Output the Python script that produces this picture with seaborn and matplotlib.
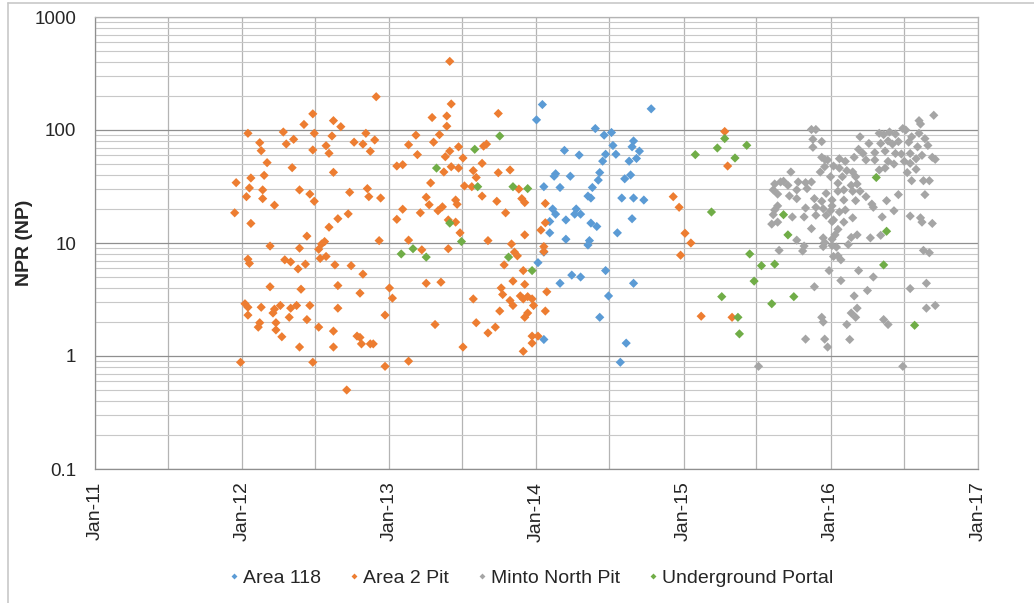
import numpy as np
import pandas as pd
import matplotlib
matplotlib.use("Agg")
import matplotlib.pyplot as plt
import matplotlib.dates as mdates
from matplotlib.ticker import LogLocator, NullFormatter, FixedLocator, FixedFormatter
from matplotlib.lines import Line2D
import seaborn as sns

# Sampling dates are stored as decimal years, NPR values in NP units.
area118_year = [
    2014.04, 2014.00, 2014.78, 2014.40, 2014.46, 2014.51, 2014.66, 2014.65, 2014.70, 2014.52,
    2014.19, 2014.29, 2014.47, 2014.54, 2014.45, 2014.63, 2014.68, 2014.43, 2014.13, 2014.12,
    2014.23, 2014.64, 2014.60, 2014.42, 2014.05, 2014.16, 2014.38, 2014.35, 2014.37, 2014.58,
    2014.66, 2014.73, 2014.11, 2014.27, 2014.13, 2014.26, 2014.30, 2014.09, 2014.20, 2014.37,
    2014.41, 2014.65, 2014.09, 2014.55, 2014.20, 2014.36, 2014.35, 2014.05, 2014.01, 2014.47,
    2014.24, 2014.30, 2014.16, 2014.66, 2014.49, 2014.43, 2014.05, 2014.61, 2014.57,
]
area118_npr = [
    168, 123, 154, 103, 90, 95, 80, 71, 65, 73,
    66, 60, 61, 61, 53, 53, 56, 42, 41, 39,
    39, 40, 37, 36, 31.5, 31, 31, 26, 25, 25,
    25, 24, 20, 20, 18, 18, 18, 15.5, 16, 15,
    14, 16.4, 12.3, 12.3, 10.8, 10.5, 9.6, 8.3, 6.7, 5.7,
    5.2, 5.0, 4.4, 4.4, 3.4, 2.2, 1.4, 1.3, 0.88,
]

area2_year = [
    2012.91, 2012.48, 2012.42, 2012.62, 2012.67, 2012.04, 2012.28, 2012.49, 2012.61, 2012.84,
    2012.35, 2012.30, 2012.12, 2012.76, 2012.82, 2012.90, 2012.57, 2012.13, 2012.48, 2012.59,
    2012.87, 2012.17, 2012.34, 2013.05, 2012.62, 2012.15, 2012.06, 2011.96, 2012.05, 2012.14,
    2012.39, 2012.85, 2012.03, 2012.14, 2012.46, 2012.73, 2012.86, 2012.94, 2012.49, 2012.22,
    2011.95, 2012.06, 2012.72, 2012.65, 2013.05, 2012.59, 2012.44, 2012.93, 2012.56, 2012.54,
    2012.19, 2012.39, 2012.52, 2012.04, 2012.05, 2012.29, 2012.33, 2012.53, 2012.57, 2012.43,
    2012.63, 2012.74, 2012.38, 2012.82, 2012.19, 2012.40, 2012.65, 2012.80, 2013.00, 2013.02,
    2012.02, 2012.04, 2012.13, 2012.22, 2012.21, 2012.26, 2012.33, 2012.37, 2012.46, 2012.65,
    2012.04, 2012.32, 2012.97, 2012.12, 2012.11, 2012.23, 2012.44, 2012.23, 2012.52, 2012.62,
    2012.27, 2012.78, 2012.80, 2012.81, 2012.87, 2012.89, 2012.39, 2012.62, 2011.99, 2012.48,
    2012.97, 2012.71,
    2013.41, 2013.42, 2013.74, 2013.29, 2013.39, 2013.39, 2013.18, 2013.34, 2013.13, 2013.30,
    2013.47, 2013.64, 2013.66, 2013.19, 2013.38, 2013.41, 2013.50, 2013.63, 2013.09, 2013.42,
    2013.47, 2013.37, 2013.57, 2013.74, 2013.82, 2013.59, 2013.28, 2013.51, 2013.56, 2013.88,
    2013.63, 2013.25, 2013.90, 2013.92, 2013.27, 2013.45, 2013.46, 2013.36, 2013.33, 2013.73,
    2013.09, 2013.21, 2013.79, 2013.40, 2013.45, 2013.48, 2013.92, 2013.13, 2013.67, 2013.83,
    2013.85, 2013.87, 2013.22, 2013.40, 2013.78, 2013.91, 2013.25, 2013.35, 2013.84, 2013.92,
    2013.76, 2013.77, 2013.89, 2013.91, 2013.94, 2013.97, 2013.82, 2013.84, 2013.98, 2013.57,
    2013.75, 2013.94, 2013.92, 2013.31, 2013.59, 2013.72, 2013.67, 2013.97, 2014.01, 2013.97,
    2013.50, 2013.91, 2013.13,
    2014.06, 2014.06, 2014.03, 2014.05, 2014.05, 2014.07, 2014.06,
    2014.93, 2014.97, 2015.01, 2015.05, 2014.98, 2015.28, 2015.30, 2015.12, 2015.33,
]
area2_npr = [
    197, 139, 112, 121, 107, 93.5, 96, 93.5, 88.5, 93.5,
    82.7, 75.2, 77.2, 78, 75, 81.6, 72.6, 65.6, 66.6, 62.2,
    64.8, 51.4, 46.4, 48.0, 42.2, 39.7, 37.6, 34.2, 30.7, 29.5,
    29.5, 30.3, 25.7, 24.7, 27.1, 28.1, 25.7, 25.0, 23.4, 21.6,
    18.5, 14.9, 18.1, 16.4, 16.2, 13.8, 11.5, 10.5, 10.3, 9.8,
    9.4, 9.0, 8.8, 7.2, 6.6, 7.1, 6.8, 7.3, 7.6, 6.5,
    6.4, 6.3, 5.9, 5.3, 4.1, 3.9, 4.2, 3.6, 4.0, 3.25,
    2.9, 2.7, 2.7, 2.6, 2.4, 2.8, 2.65, 2.8, 2.8, 2.65,
    2.3, 2.2, 2.3, 1.97, 1.8, 1.97, 2.1, 1.7, 1.8, 1.66,
    1.48, 1.5, 1.46, 1.28, 1.28, 1.28, 1.2, 1.2, 0.88, 0.88,
    0.81, 0.50,
    405, 170, 140, 129, 133, 108, 90, 91, 74, 78,
    71, 72, 75, 60.5, 58, 65, 56.5, 50.7, 49.3, 47.3,
    46, 42.5, 43.7, 41.9, 44.3, 38, 34, 32, 31.5, 30,
    26, 25.4, 24.7, 22.8, 21.8, 24, 22, 20.9, 19.3, 23.4,
    19.9, 18.5, 18.5, 16, 15.3, 12.3, 11.8, 10.6, 10.5, 9.8,
    8.3, 7.7, 8.7, 8.9, 6.4, 5.7, 4.4, 4.5, 4.6, 4.3,
    4.0, 3.5, 3.4, 3.2, 3.35, 3.2, 3.1, 2.8, 2.8, 3.2,
    2.5, 2.4, 2.2, 1.9, 1.97, 1.8, 1.6, 1.5, 1.5, 1.3,
    1.2, 1.1, 0.9,
    22.4, 15.1, 13, 9.3, 8.4, 3.7, 2.5,
    25.7, 20.7, 12.2, 10, 7.8, 97, 48, 2.25, 2.2,
]

minto_year = [
    2015.87, 2015.90, 2015.88, 2015.94, 2015.88, 2015.96, 2015.73, 2015.62, 2015.66, 2015.68,
    2015.71, 2015.78, 2015.83, 2015.87, 2015.84, 2015.77, 2015.61, 2015.64, 2015.72, 2015.77,
    2015.89, 2015.64, 2015.62, 2015.61, 2015.60, 2015.64, 2015.83, 2015.90, 2016.01, 2015.74,
    2015.82, 2015.90, 2015.97, 2016.02, 2015.87, 2015.77, 2015.82, 2015.81, 2016.01, 2015.65,
    2016.02, 2015.89, 2015.94, 2015.95, 2015.83, 2015.96, 2015.98, 2015.51,
    2016.70, 2016.60, 2016.61, 2016.49, 2016.20, 2016.33, 2016.36, 2016.40, 2016.44, 2016.51,
    2016.55, 2016.60, 2016.64, 2016.26, 2016.34, 2016.39, 2016.42, 2016.46, 2016.53, 2016.66,
    2016.59, 2016.19, 2016.22, 2016.30, 2016.37, 2016.44, 2016.48, 2016.54, 2016.58, 2016.62,
    2016.69, 2016.71, 2015.94, 2015.98, 2016.06, 2016.10, 2016.16, 2016.24, 2016.30, 2016.39,
    2016.43, 2016.50, 2016.54, 2015.96, 2016.02, 2016.06, 2016.11, 2016.15, 2016.33, 2016.37,
    2016.58, 2016.52, 2015.93, 2016.00, 2016.08, 2016.17, 2016.55, 2016.63, 2016.67, 2016.05,
    2016.14, 2016.18, 2015.97, 2016.05, 2016.09, 2016.15, 2016.20, 2016.24, 2016.46, 2016.64,
    2016.38, 2015.94, 2016.01, 2016.09, 2016.17, 2016.28, 2016.29, 2016.43, 2015.95, 2016.00,
    2016.06, 2016.10, 2016.35, 2016.54, 2016.61, 2016.62, 2016.69, 2016.01, 2016.09, 2016.15,
    2016.05, 2016.03, 2016.18, 2016.27, 2016.34, 2016.14, 2015.95, 2015.96, 2016.01, 2015.95,
    2016.12, 2016.04, 2016.63, 2016.67, 2016.05, 2016.07, 2015.99, 2016.19, 2016.29, 2016.07,
    2016.65, 2016.25, 2016.54, 2016.16, 2016.18, 2016.14, 2016.17, 2016.65, 2016.71, 2016.11,
    2016.36, 2016.39, 2016.13, 2016.49,
]
minto_npr = [
    101, 101, 82.7, 79, 70.3, 55, 42.5, 33.3, 34.7, 35.2,
    32.4, 34.7, 34.2, 34.7, 30.3, 29.5, 29.5, 27.1, 26.1, 24.7,
    24.7, 21.3, 19.6, 17.8, 14.7, 15.3, 20.4, 20.7, 21.3, 17,
    17, 17.6, 17.6, 16, 13.4, 10.6, 9.4, 8.5, 9.5, 8.6,
    7.6, 4.1, 2.2, 2.0, 1.41, 1.41, 1.2, 0.81,
    135, 121, 113, 103, 87, 93.5, 91, 96, 92, 100,
    87, 93.5, 83.8, 76, 76, 80, 75, 79, 78, 73,
    71, 67.5, 62, 63, 65, 62, 61.3, 62, 55.7, 59.7,
    57.3, 55, 57.3, 54.3, 55.7, 52.8, 57.3, 54.3, 54.3, 52.8,
    50, 52.8, 50.7, 47.3, 48, 46, 43.7, 42.5, 44.3, 46,
    44.9, 42, 42.5, 38.6, 38.6, 38.6, 35.6, 35.6, 35.6, 33.8,
    32.4, 33.3, 27.5, 28.7, 29.5, 28.7, 28.7, 25.7, 26.8, 26.8,
    23.7, 23.4, 24, 24, 23.7, 22.1, 20.7, 19.3, 20.1, 19.3,
    18.8, 19.6, 17, 17.3, 16.7, 15.3, 14.9, 15.5, 15.3, 16.7,
    13.2, 11.8, 11.8, 11.1, 11.7, 11.2, 11.1, 10.1, 10.8, 9.3,
    9.7, 9.2, 8.6, 8.2, 7.7, 7.1, 5.7, 5.7, 5.0, 4.65,
    4.4, 3.8, 3.95, 3.4, 2.65, 2.4, 2.2, 2.65, 2.8, 1.9,
    2.1, 1.9, 1.4, 0.81,
]

portal_year = [
    2013.58, 2013.75, 2013.32, 2013.60, 2013.84, 2013.94, 2013.41, 2013.49, 2013.08, 2013.16,
    2013.25, 2013.81, 2013.97, 2015.08, 2015.28, 2015.23, 2015.43, 2015.35, 2015.19, 2015.45,
    2015.53, 2015.48, 2015.26, 2015.60, 2015.75, 2015.37, 2015.38, 2015.68, 2015.71, 2015.62,
    2016.31, 2016.38, 2016.36, 2016.57,
]
portal_npr = [
    67.5, 88.5, 46, 31.5, 31.5, 30.3, 15, 10.3, 8.0, 8.9,
    7.5, 7.5, 5.7, 60.5, 84, 69.3, 73.2, 56.5, 18.8, 8.0,
    6.3, 4.6, 3.35, 2.9, 3.35, 2.2, 1.57, 17.8, 11.8, 6.5,
    38, 12.7, 6.4, 1.87,
]

series_names = ["Area 118", "Area 2 Pit", "Minto North Pit", "Underground Portal"]
series_colors = ["#5B9BD5", "#ED7D31", "#A5A5A5", "#70AD47"]
tick_years = [2011, 2012, 2013, 2014, 2015, 2016, 2017]
npr_ticks = [0.1, 1, 10, 100, 1000]
npr_tick_labels = ["0.1", "1", "10", "100", "1000"]


def decimal_year_to_date(values):
    dates = []
    for v in values:
        yr = int(np.floor(v))
        start = pd.Timestamp(year=yr, month=1, day=1)
        end = pd.Timestamp(year=yr + 1, month=1, day=1)
        dates.append(start + (end - start) * (v - yr))
    return dates


frames = []
for name, yrs, vals in zip(series_names,
                           [area118_year, area2_year, minto_year, portal_year],
                           [area118_npr, area2_npr, minto_npr, portal_npr]):
    frames.append(pd.DataFrame({"date": decimal_year_to_date(yrs),
                                "npr": vals, "source": name}))
df = pd.concat(frames, ignore_index=True)

sns.set_style("white")
plt.rcParams["font.family"] = ["Liberation Sans", "DejaVu Sans"]

fig = plt.figure(figsize=(10.34, 6.03), dpi=100)
ax = fig.add_axes([95 / 1034, 1 - 469 / 603, 883 / 1034, 452 / 603])

sns.scatterplot(data=df, x="date", y="npr", hue="source",
                hue_order=series_names, palette=series_colors,
                marker="D", s=22, linewidth=0, ax=ax, legend=False, zorder=3)

ax.set_yscale("log")
ax.set_ylim(0.1, 1000)
ax.set_xlim(pd.Timestamp("2011-01-01"), pd.Timestamp("2017-01-01"))

ax.yaxis.set_major_locator(FixedLocator(npr_ticks))
ax.yaxis.set_major_formatter(FixedFormatter(npr_tick_labels))
ax.yaxis.set_minor_locator(LogLocator(base=10, subs=range(2, 10)))
ax.yaxis.set_minor_formatter(NullFormatter())

ax.xaxis.set_major_locator(FixedLocator(
    [mdates.date2num(pd.Timestamp(year=y, month=1, day=1)) for y in tick_years]))
ax.xaxis.set_major_formatter(mdates.DateFormatter("%b-%y"))
ax.xaxis.set_minor_locator(mdates.MonthLocator(bymonth=7))

ax.grid(which="major", axis="y", color="#8f8f8f", linewidth=0.9, zorder=0)
ax.grid(which="minor", axis="y", color="#c8c8c8", linewidth=0.8, zorder=0)
ax.grid(which="both", axis="x", color="#b4b4b4", linewidth=0.9, zorder=0)
ax.set_axisbelow(True)

for side in ["left", "bottom"]:
    ax.spines[side].set_color("#8f8f8f")
    ax.spines[side].set_linewidth(0.9)
for side in ["top", "right"]:
    ax.spines[side].set_color("#b4b4b4")
    ax.spines[side].set_linewidth(0.9)

ax.tick_params(axis="y", which="major", length=5, width=0.9, color="#8f8f8f",
               labelsize=13.5, pad=8.5, labelcolor="#262626")
ax.tick_params(axis="y", which="minor", length=0)
ax.tick_params(axis="x", which="both", length=0, labelsize=14, pad=9,
               labelcolor="#262626")
for lbl in ax.get_xticklabels():
    lbl.set_rotation(90)

ax.set_xlabel("")
ax.set_ylabel("NPR (NP)", fontsize=14, fontweight="bold", color="#262626",
              labelpad=1)

handles = [Line2D([], [], marker="D", linestyle="none", markersize=3,
                  markerfacecolor=c, markeredgewidth=0) for c in series_colors]
ax.legend(handles, series_names, loc="center", bbox_to_anchor=(0.494, -0.241),
          ncol=4, frameon=False, fontsize=14, handlelength=0.5,
          handletextpad=0.2, columnspacing=1.45, labelcolor="#262626")

# light chart-area border along the top and left edges
fig.add_artist(Line2D([8 / 1034, 1.0], [1 - 3 / 603, 1 - 3 / 603],
                      transform=fig.transFigure, color="#c8c8c8", linewidth=1.2))
fig.add_artist(Line2D([8 / 1034, 8 / 1034], [0.0, 1 - 3 / 603],
                      transform=fig.transFigure, color="#c8c8c8", linewidth=1.2))

fig.savefig("out.png", dpi=100)
